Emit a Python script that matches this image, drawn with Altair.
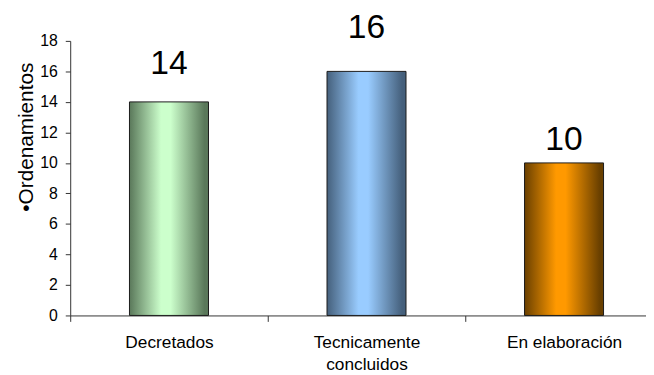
import altair as alt
import pandas as pd

categories = ["Decretados", "Tecnicamente concluidos", "En elaboración"]
values = [14, 16, 10]
edge_colors = ["#5a785a", "#45607c", "#6a4000"]
center_colors = ["#ccffcc", "#99ccff", "#ff9900"]
label_dy = [-28, -34, -13]
y_ticks = [0, 2, 4, 6, 8, 10, 12, 14, 16, 18]

df = pd.DataFrame({"cat": categories, "val": values})

x = alt.X(
    "cat:N",
    sort=categories,
    title=None,
    scale=alt.Scale(domain=categories, range=[0, 600], paddingInner=0, paddingOuter=0),
    axis=alt.Axis(
        labelAngle=0,
        tickBand="extent",
        tickSize=6,
        labelPadding=12,
        labelFontSize=17.5,
        labelLineHeight=23,
        labelExpr="length(datum.label) > 15 ? split(datum.label, ' ') : datum.label",
    ),
)
y = alt.Y(
    "val:Q",
    scale=alt.Scale(domain=[0, 18], nice=False),
    axis=alt.Axis(
        values=y_ticks,
        title="•Ordenamientos",
        grid=False,
        tickSize=5,
        labelPadding=8,
        labelFontSize=16,
        titleFontSize=21,
        titleFontWeight="normal",
        titleAngle=270,
        titleX=-44,
        titleY=97,
        titleAlign="center",
        titleBaseline="middle",
    ),
)

layers = []
for i, c in enumerate(categories):
    base = alt.Chart(df).transform_filter(alt.datum.cat == c)
    grad = alt.Gradient(
        gradient="linear",
        x1=0, x2=1, y1=0, y2=0,
        stops=[
            alt.GradientStop(color=edge_colors[i], offset=0),
            alt.GradientStop(color=center_colors[i], offset=0.4),
            alt.GradientStop(color=center_colors[i], offset=0.52),
            alt.GradientStop(color=edge_colors[i], offset=0.95),
            alt.GradientStop(color=edge_colors[i], offset=1),
        ],
    )
    bar = base.mark_bar(
        fill=grad, stroke="#1a1a1a", strokeWidth=1, width=alt.RelativeBandSize(0.4)
    ).encode(x=x, y=y)
    txt = base.mark_text(
        fontSize=34, dy=label_dy[i], baseline="alphabetic", font="Liberation Sans", color="black"
    ).encode(x=x, y=y, text="val:Q")
    layers += [bar, txt]

chart = (
    alt.layer(*layers)
    .properties(
        width=583,
        height=278,
        autosize=alt.AutoSizeParams(type="none"),
        padding={"left": 63, "top": 31, "right": 0, "bottom": 58},
    )
    .configure_view(stroke=None)
    .configure_axis(
        domainColor="#333333",
        tickColor="#333333",
        labelColor="black",
        titleColor="black",
        labelFont="Liberation Sans",
        titleFont="Liberation Sans",
    )
)

chart.save("out.html", embed_options={"renderer": "svg", "actions": False})
